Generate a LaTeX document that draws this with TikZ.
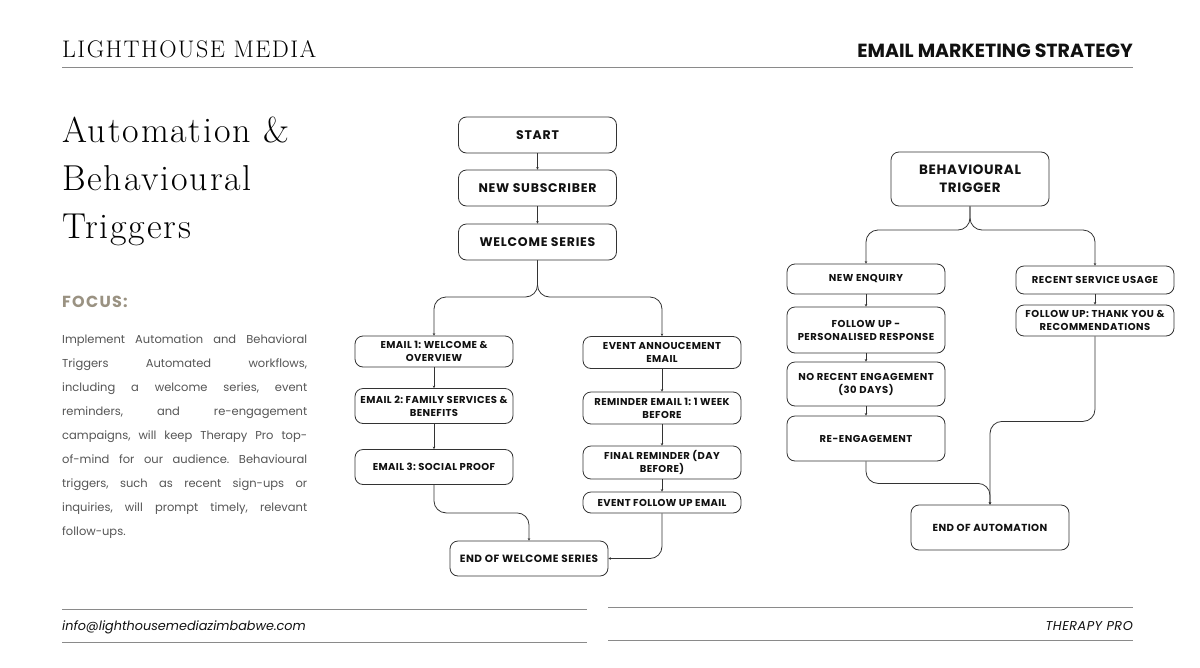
\documentclass[tikz,border=0pt]{standalone}
\usepackage{fontspec}
\usetikzlibrary{arrows.meta}
\frenchspacing
\newfontfamily\pop{Poppins}
\newfontfamily\popA{Poppins}[LetterSpace=4]
\newfontfamily\popB{Poppins}[LetterSpace=5]
\newfontfamily\popC{Poppins}[LetterSpace=6]
\newfontfamily\popD{Poppins}[LetterSpace=8]
\newfontfamily\titlefont{Latin Modern Roman}[LetterSpace=5]
\newfontfamily\headfont{Latin Modern Roman}[LetterSpace=6]
\definecolor{linec}{HTML}{333333}
\definecolor{txtc}{HTML}{111111}
\definecolor{parac}{HTML}{555555}
\definecolor{focusc}{HTML}{9A9282}
\definecolor{rulec}{HTML}{8A8A8A}
\begin{document}
\begin{tikzpicture}[x=1pt,y=-1pt,
  box/.style={draw=linec, line width=0.8pt, rounded corners=8pt, fill=white,
    minimum width=158pt, align=center, text=txtc, inner sep=1pt,
    font=\popA\bfseries\fontsize{10}{13}\selectfont},
  rbox/.style={box, font=\popB\bfseries\fontsize{10}{13}\selectfont},
  tbox/.style={box, minimum height=36pt, font=\popC\bfseries\fontsize{12.5}{15}\selectfont},
  conn/.style={draw=linec, line width=0.8pt, rounded corners=12pt,
    -{Stealth[length=2.5pt,width=2.5pt]}},
  rulel/.style={draw=rulec, line width=1pt}]
\useasboundingbox (0,0) rectangle (1200,667);
\fill[white] (0,0) rectangle (1200,667);

% header
\node[anchor=base west, inner sep=0pt, text=black, font=\headfont\fontsize{24}{26}\selectfont] (hdl) at (62,57) {LIGHTHOUSE MEDIA};
\node[anchor=base east, inner sep=0pt, text=txtc, font=\pop\bfseries\fontsize{19}{21}\selectfont] (hdr) at (1133,57) {EMAIL MARKETING STRATEGY};
\coordinate (hl1) at (62,67);
\coordinate (hl2) at (1133,67);
\draw[rulel] (hl1) -- (hl2);

% title
\node[anchor=base west, inner sep=0pt, text=black, align=left, font=\titlefont\fontsize{36}{48}\selectfont] (title) at (62,238) {Automation \&\\Behavioural\\Triggers};

% focus
\node[anchor=base west, inner sep=0pt, text=focusc, font=\popD\bfseries\fontsize{16}{18}\selectfont] (focus) at (62,307) {FOCUS:};
\node[anchor=north west, inner sep=0pt, text=parac, text width=245pt, align=justify,
  font=\pop\fontsize{11.5}{24}\selectfont] (para) at (62,335)
  {Implement Automation and Behavioral\linebreak Triggers Automated workflows,\linebreak including a welcome series, event\linebreak reminders, and re-engagement\linebreak campaigns, will keep Therapy Pro top-\linebreak of-mind for our audience. Behavioural\linebreak triggers, such as recent sign-ups or\linebreak inquiries, will prompt timely, relevant\linebreak follow-ups.};

% left flowchart
\node[tbox] (start) at (537.5,135) {START};
\node[tbox] (nsub) at (537.5,188) {NEW SUBSCRIBER};
\node[tbox] (wser) at (537.5,242) {WELCOME SERIES};

\node[box, minimum height=31pt] (e1) at (434,351.5) {EMAIL 1: WELCOME \&\\OVERVIEW};
\node[box, minimum height=35pt] (e2) at (434,406) {EMAIL 2: FAMILY SERVICES \&\\BENEFITS};
\node[box, minimum height=35pt] (e3) at (434,467) {EMAIL 3: SOCIAL PROOF};

\node[box, minimum height=32pt] (ev1) at (662,352.5) {EVENT ANNOUCEMENT\\EMAIL};
\node[box, minimum height=32pt] (ev2) at (662,408) {REMINDER EMAIL 1: 1 WEEK\\BEFORE};
\node[box, minimum height=33pt] (ev3) at (662,462.5) {FINAL REMINDER (DAY\\BEFORE)};
\node[box, minimum height=21pt] (ev4) at (662,502.5) {EVENT FOLLOW UP EMAIL};

\node[box, minimum height=35pt, font=\popB\bfseries\fontsize{10.5}{13}\selectfont] (endw) at (529,558.5) {END OF WELCOME SERIES};

\draw[conn] (start) -- (nsub);
\draw[conn] (nsub) -- (wser);
\coordinate (split1) at (537.5,297);
\draw[conn] (wser.south) -- (split1) -| (e1.north);
\draw[conn] (wser.south) -- (split1) -| (ev1.north);
\draw[conn] (e1) -- (e2);
\draw[conn] (e2) -- (e3);
\draw[conn] (ev1) -- (ev2);
\draw[conn] (ev2) -- (ev3);
\draw[conn] (ev3) -- (ev4);
\draw[conn] (e3.south) -- ++(0,28) -| (endw.north);
\draw[conn] (ev4.south) |- (endw.east);

% right flowchart
\node[box, minimum height=54pt, font=\popB\bfseries\fontsize{13.5}{18}\selectfont] (bt) at (970,179) {BEHAVIOURAL\\TRIGGER};
\node[rbox, minimum height=30pt] (ne) at (866,279) {NEW ENQUIRY};
\node[rbox, minimum height=46pt] (fu1) at (866,330) {FOLLOW UP -\\PERSONALISED RESPONSE};
\node[rbox, minimum height=44pt] (nr) at (866,384) {NO RECENT ENGAGEMENT\\(30 DAYS)};
\node[rbox, minimum height=45pt] (re) at (866,438.5) {RE-ENGAGEMENT};

\node[rbox, minimum height=28pt] (rs) at (1095,280) {RECENT SERVICE USAGE};
\node[rbox, minimum height=31pt] (fu2) at (1095,320.5) {FOLLOW UP: THANK YOU \&\\RECOMMENDATIONS};

\node[box, minimum height=45pt, font=\popA\bfseries\fontsize{10.2}{13}\selectfont] (ea) at (990,527.5) {END OF AUTOMATION};

\coordinate (split2) at (970,230);
\draw[conn] (bt.south) -- (split2) -| (ne.north);
\draw[conn] (bt.south) -- (split2) -| (rs.north);
\draw[conn] (ne) -- (fu1);
\draw[conn] (fu1) -- (nr);
\draw[conn] (nr) -- (re);
\draw[conn] (rs) -- (fu2);
\draw[conn] (fu2.south) -- ++(0,85) -| (ea.north);
\draw[conn] (re.south) -- ++(0,22) -| (ea.north);

% footer
\coordinate (f1a) at (62,609); \coordinate (f1b) at (587,609);
\coordinate (f2a) at (62,642); \coordinate (f2b) at (587,642);
\coordinate (f3a) at (608,607); \coordinate (f3b) at (1133,607);
\coordinate (f4a) at (608,640); \coordinate (f4b) at (1133,640);
\draw[rulel] (f1a) -- (f1b);
\draw[rulel] (f2a) -- (f2b);
\draw[rulel] (f3a) -- (f3b);
\draw[rulel] (f4a) -- (f4b);
\node[anchor=base west, inner sep=0pt, text=txtc, font=\pop\itshape\fontsize{12.8}{14}\selectfont] (mail) at (62,630) {info@lighthousemediazimbabwe.com};
\node[anchor=base east, inner sep=0pt, text=txtc, font=\popA\itshape\fontsize{12.8}{14}\selectfont] (tp) at (1133,630) {THERAPY PRO};
\end{tikzpicture}
\end{document}
